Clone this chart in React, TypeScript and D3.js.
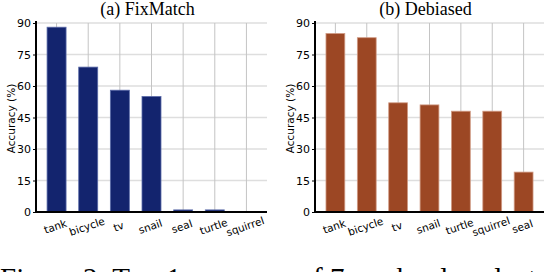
import React, { useEffect, useRef } from 'react';
import * as d3 from 'd3';

// values
const fixmatchClasses = ['tank', 'bicycle', 'tv', 'snail', 'seal', 'turtle', 'squirrel'];
const fixmatchAccuracy = [88, 69, 58, 55, 1, 1, 0];

const debiasedClasses = ['tank', 'bicycle', 'tv', 'snail', 'turtle', 'squirrel', 'seal'];
const debiasedAccuracy = [85, 83, 52, 51, 48, 48, 19];

const yTicks = [0, 15, 30, 45, 60, 75, 90];

const panels = [
  { title: '(a) FixMatch', classes: fixmatchClasses, values: fixmatchAccuracy, color: '#13246e', edge: '#5a6aa8', left: 36, right: 267 },
  { title: '(b) Debiased', classes: debiasedClasses, values: debiasedAccuracy, color: '#9c4724', edge: '#d09a84', left: 315, right: 544 },
];

const sans = 'DejaVu Sans, sans-serif';
const serif = 'Liberation Serif, Times New Roman, serif';

function drawPanel(svg: d3.Selection<SVGSVGElement, unknown, null, undefined>, p: typeof panels[number]) {
  const top = 23, bottom = 212;

  const x = d3.scaleBand<string>()
              .domain(p.classes)
              .range([p.left, p.right])
              .paddingInner(0.4)
              .paddingOuter(0.35);

  const y = d3.scaleLinear()
              .domain([0, 90])
              .range([bottom, top]);

  const g = svg.append('g');

  // horizontal grid
  g.append('g')
   .selectAll('line')
   .data(yTicks.slice(1))
   .join('line')
   .attr('x1', p.left)
   .attr('x2', p.right)
   .attr('y1', d => y(d))
   .attr('y2', d => y(d))
   .attr('stroke', '#dedede')
   .attr('stroke-width', 1.6);

  // vertical grid at category centres
  g.append('g')
   .selectAll('line')
   .data(p.classes)
   .join('line')
   .attr('x1', d => x(d)! + x.bandwidth() / 2)
   .attr('x2', d => x(d)! + x.bandwidth() / 2)
   .attr('y1', top)
   .attr('y2', bottom)
   .attr('stroke', '#c4c4c4')
   .attr('stroke-width', 1);

  // bars
  g.append('g')
   .selectAll('rect')
   .data(p.values)
   .join('rect')
   .attr('x', (d, i) => x(p.classes[i])!)
   .attr('y', d => y(d))
   .attr('width', x.bandwidth())
   .attr('height', d => bottom - y(d))
   .attr('fill', p.color)
   .attr('stroke', p.edge)
   .attr('stroke-width', d => d > 0 ? 0.8 : 0);

  // y axis
  const yAxis = g.append('g')
                 .attr('transform', `translate(${p.left}, 0)`)
                 .call(d3.axisLeft(y).tickValues(yTicks).tickSize(3).tickPadding(2));
  yAxis.select('.domain').attr('stroke', '#000').attr('stroke-width', 2).attr('d', `M0,${top - 2}V${bottom}`);
  yAxis.selectAll('.tick line').attr('stroke', '#000').attr('stroke-width', 1);
  yAxis.selectAll('text')
       .attr('font-family', sans)
       .attr('font-size', 11)
       .attr('fill', '#000');

  // x axis
  const xAxis = g.append('g')
                 .attr('transform', `translate(0, ${bottom})`)
                 .call(d3.axisBottom(x).tickSize(0).tickPadding(0));
  xAxis.select('.domain').attr('stroke', '#000').attr('stroke-width', 2).attr('d', `M${p.left - 1},0H${p.right}`);
  xAxis.selectAll<SVGTextElement, string>('text')
       .attr('font-family', sans)
       .attr('font-size', 10.5)
       .attr('fill', '#000')
       .attr('dy', null)
       .attr('y', null)
       .attr('text-anchor', 'middle')
       .attr('transform', 'translate(0, 18) rotate(-19)');

  // axis label
  g.append('text')
   .attr('transform', `translate(${p.left - 21}, ${(top + bottom) / 2 + 1}) rotate(-90)`)
   .attr('text-anchor', 'middle')
   .attr('font-family', sans)
   .attr('font-size', 10.5)
   .text('Accuracy (%)');

  // title
  g.append('text')
   .attr('x', (p.left + p.right) / 2 - 4)
   .attr('y', 15)
   .attr('text-anchor', 'middle')
   .attr('font-family', serif)
   .attr('font-size', 18)
   .text(p.title);
}

function Chart() {
  const ref = useRef<SVGSVGElement>(null);

  useEffect(() => {
    const svg = d3.select(ref.current!);
    svg.selectAll('*').remove();
    panels.forEach(p => drawPanel(svg, p));

    // caption, mostly cut off by the bottom edge
    svg.append('text')
       .attr('x', 0)
       .attr('y', 288)
       .attr('font-family', serif)
       .attr('font-size', 29)
       .text('Figure 2: Top-1 accuracy of 7 randomly selected classes');
  }, []);

  return (
    <svg ref={ref} width={556} height={272}
         style={{ position: 'absolute', left: 0, top: 0, background: '#fff' }} />
  );
}

export default function App() {
  return <Chart />;
}
